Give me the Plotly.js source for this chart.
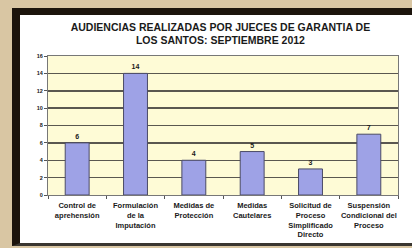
<!DOCTYPE html>
<html><head><meta charset="utf-8">
<script src="https://cdn.plot.ly/plotly-3.0.1.min.js"></script>
<style>
html,body{margin:0;padding:0;width:412px;height:248px;overflow:hidden;background:#d9c6a3;}
#frame{position:absolute;left:12px;top:8px;width:420px;height:238px;background:#ffffff;border-left:8px solid #1c140c;border-top:7px solid #1c140c;border-bottom:3px solid #3a3630;box-sizing:border-box;}
#chart{position:absolute;left:0;top:0;width:412px;height:248px;}
</style></head>
<body>
<div id="frame"></div>
<div id="chart"></div>
<script>
const categories = [
  "Control de<br>aprehensión",
  "Formulación<br>de la<br>Imputación",
  "Medidas de<br>Protección",
  "Medidas<br>Cautelares",
  "Solicitud de<br>Proceso<br>Simplificado<br>Directo",
  "Suspensión<br>Condicional del<br>Proceso"
];
const values = [6, 14, 4, 5, 3, 7];
const valueLabels = ["6", "14", "4", "5", "3", "7"];
const yTicks = [0, 2, 4, 6, 8, 10, 12, 14, 16];
const titleText = "AUDIENCIAS REALIZADAS POR JUECES DE GARANTIA DE<br>LOS SANTOS: SEPTIEMBRE 2012";

const trace = {
  type: "bar",
  x: categories,
  y: values,
  text: valueLabels,
  textposition: "outside",
  cliponaxis: false,
  textfont: {family: "Arial, Liberation Sans, sans-serif", size: 7, color: "#1a1a1a", weight: "bold"},
  marker: {color: "#9ea2e6", line: {color: "#4b4b66", width: 1}},
  hoverinfo: "none"
};

const layout = {
  width: 412, height: 248,
  margin: {l: 48, r: 14, t: 56, b: 53, pad: 0},
  paper_bgcolor: "rgba(0,0,0,0)",
  plot_bgcolor: "#fefbd6",
  bargap: 0.59,
  showlegend: false,
  title: {
    text: titleText,
    font: {family: "Arial, Liberation Sans, sans-serif", size: 10.5, color: "#1a1a1a", weight: "bold"},
    x: 0.535, xanchor: "center",
    y: 0.876, yanchor: "middle"
  },
  xaxis: {
    type: "category",
    tickson: "boundaries",
    ticks: "outside", ticklen: 3, tickcolor: "#555",
    showline: true, linecolor: "#777", linewidth: 1, mirror: true,
    showgrid: false,
    tickfont: {family: "Arial, Liberation Sans, sans-serif", size: 7.5, color: "#1a1a1a", weight: "bold"},
    ticklabelstandoff: 3,
    tickangle: 0,
    fixedrange: true
  },
  yaxis: {
    range: [0, 16],
    tickvals: yTicks,
    ticktext: yTicks.map(String),
    ticks: "outside", ticklen: 3, tickcolor: "#555",
    showline: true, linecolor: "#777", linewidth: 1, mirror: true,
    showgrid: true, gridcolor: "#5a5750", gridwidth: 1.5,
    zeroline: false,
    tickfont: {family: "Arial, Liberation Sans, sans-serif", size: 5.5, color: "#1a1a1a", weight: "bold"},
    fixedrange: true
  }
};

Plotly.newPlot("chart", [trace], layout, {displayModeBar: false, staticPlot: true});
</script>
</body></html>
